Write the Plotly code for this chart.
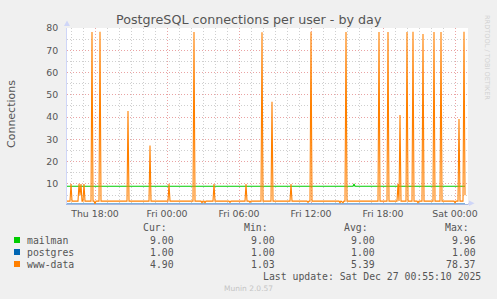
import plotly.graph_objects as go

# ---------------- data ----------------
title_text = "PostgreSQL connections per user - by day"
y_title = "Connections"

x_start = "2025-12-25 15:40"
x_end = "2025-12-27 01:05"
major_tick0 = "2025-12-25 18:00"

mailman_time = ["2025-12-25 15:40", "2025-12-26 15:30", "2025-12-26 15:35",
                "2025-12-26 15:40", "2025-12-27 00:50"]
mailman_val = [9.0, 9.0, 9.96, 9.0, 9.0]

postgres_time = ["2025-12-25 15:40", "2025-12-27 00:50"]
postgres_val = [1.0, 1.0]

www_time = [
    "2025-12-25 15:40", "2025-12-25 15:55", "2025-12-25 16:00", "2025-12-25 16:05",
    "2025-12-25 16:35", "2025-12-25 16:40", "2025-12-25 16:45", "2025-12-25 16:50",
    "2025-12-25 16:55", "2025-12-25 17:00", "2025-12-25 17:05", "2025-12-25 17:10",
    "2025-12-25 17:40", "2025-12-25 17:45", "2025-12-25 17:50", "2025-12-25 17:55",
    "2025-12-25 18:00", "2025-12-25 18:05", "2025-12-25 18:20", "2025-12-25 18:25",
    "2025-12-25 18:30", "2025-12-25 20:40", "2025-12-25 20:45", "2025-12-25 20:50",
    "2025-12-25 22:30", "2025-12-25 22:35", "2025-12-25 22:40",
    "2025-12-26 00:05", "2025-12-26 00:10", "2025-12-26 00:15",
    "2025-12-26 02:10", "2025-12-26 02:15", "2025-12-26 02:20",
    "2025-12-26 02:50", "2025-12-26 02:55", "2025-12-26 03:00",
    "2025-12-26 03:05", "2025-12-26 03:10", "2025-12-26 03:15",
    "2025-12-26 03:50", "2025-12-26 03:55", "2025-12-26 04:00",
    "2025-12-26 05:10", "2025-12-26 05:15", "2025-12-26 05:20",
    "2025-12-26 06:30", "2025-12-26 06:35", "2025-12-26 06:40",
    "2025-12-26 06:50", "2025-12-26 06:55", "2025-12-26 07:00",
    "2025-12-26 07:50", "2025-12-26 07:55", "2025-12-26 08:00",
    "2025-12-26 08:40", "2025-12-26 08:45", "2025-12-26 08:50",
    "2025-12-26 10:15", "2025-12-26 10:20", "2025-12-26 10:25",
    "2025-12-26 11:40", "2025-12-26 11:45", "2025-12-26 11:50",
    "2025-12-26 11:55", "2025-12-26 12:00", "2025-12-26 12:05",
    "2025-12-26 14:20", "2025-12-26 14:25", "2025-12-26 14:30",
    "2025-12-26 14:40", "2025-12-26 14:45", "2025-12-26 14:50",
    "2025-12-26 14:55", "2025-12-26 15:00",
    "2025-12-26 17:35", "2025-12-26 17:40", "2025-12-26 17:45",
    "2025-12-26 18:20", "2025-12-26 18:25", "2025-12-26 18:30",
    "2025-12-26 19:10", "2025-12-26 19:15", "2025-12-26 19:20",
    "2025-12-26 19:25", "2025-12-26 19:30",
    "2025-12-26 19:55", "2025-12-26 20:00", "2025-12-26 20:05",
    "2025-12-26 20:25", "2025-12-26 20:30", "2025-12-26 20:35",
    "2025-12-26 20:50", "2025-12-26 20:55", "2025-12-26 21:00",
    "2025-12-26 21:15", "2025-12-26 21:20", "2025-12-26 21:25",
    "2025-12-26 22:10", "2025-12-26 22:15", "2025-12-26 22:20",
    "2025-12-26 22:45", "2025-12-26 22:50", "2025-12-26 22:55",
    "2025-12-26 23:55", "2025-12-27 00:00", "2025-12-27 00:05",
    "2025-12-27 00:15", "2025-12-27 00:20", "2025-12-27 00:25",
    "2025-12-27 00:40", "2025-12-27 00:45", "2025-12-27 00:50",
]
www_val = [
    2.3, 2.3, 10.0, 2.3,
    2.3, 10.1, 4.8, 10.0,
    2.3, 2.3, 10.0, 2.3,
    2.3, 78.2, 2.3, 2.3,
    1.1, 2.3, 2.3, 78.3,
    2.3, 2.3, 42.7, 2.3,
    2.3, 27.3, 2.3,
    2.3, 10.1, 2.3,
    2.3, 78.2, 2.3,
    2.3, 1.6, 2.3,
    2.3, 1.6, 2.3,
    2.3, 10.0, 2.3,
    2.3, 1.7, 2.3,
    2.3, 10.0, 2.3,
    2.3, 1.7, 2.3,
    2.3, 78.1, 2.3,
    2.3, 46.9, 2.3,
    2.3, 10.0, 2.3,
    2.3, 1.7, 2.3,
    2.3, 78.3, 2.3,
    2.3, 1.6, 2.3,
    1.6, 2.3, 2.3,
    78.2, 2.3,
    2.3, 78.2, 2.3,
    2.3, 78.2, 2.3,
    2.3, 10.0, 2.3,
    40.9, 2.3,
    2.3, 78.2, 2.3,
    2.3, 78.3, 2.3,
    2.3, 1.6, 2.3,
    2.3, 77.3, 2.3,
    2.3, 78.2, 2.3,
    2.3, 78.2, 2.3,
    2.3, 1.6, 2.3,
    2.3, 39.1, 2.3,
    2.3, 78.37, 4.9,
]

series_names = ["mailman", "postgres", "www-data"]
series_colors = ["#00cc00", "#0066b3", "#ff8000"]
cur_vals = ["9.00", "1.00", "4.90"]
min_vals = ["9.00", "1.00", "1.03"]
avg_vals = ["9.00", "1.00", "5.39"]
max_vals = ["9.96", "1.00", "78.37"]
col_headers = ["Cur:", "Min:", "Avg:", "Max:"]
last_update = "Last update: Sat Dec 27 00:55:10 2025"
munin_ver = "Munin 2.0.57"
rrd_credit = "RRDTOOL / TOBI OETIKER"

# ---------------- layout helpers ----------------
W, H = 497, 299
L, R, T, B = 67, 29, 28, 95
PW = W - L - R
PH = H - T - B


def px(x):
    return (x - L) / PW


def py(y):
    return (H - B - y) / PH


FONT = "DejaVu Sans"
MONO = "DejaVu Sans Mono"
TXT = "#555555"
AXIS = "#cfd6f8"

fig = go.Figure()
series = [(mailman_time, mailman_val), (postgres_time, postgres_val), (www_time, www_val)]
for (t, v), name, col in zip(series, series_names, series_colors):
    fig.add_trace(go.Scatter(x=t, y=v, mode="lines", name=name,
                             line=dict(color=col, width=1.1),
                             hoverinfo="skip", showlegend=False))

ann = []
# title
ann.append(dict(text=title_text, x=px(248.5), y=py(19.5), xanchor="center", yanchor="middle",
                font=dict(family=FONT, size=12.7, color=TXT)))
# y title
ann.append(dict(text=y_title, x=px(11), y=py(114), xanchor="center", yanchor="middle",
                textangle=-90, font=dict(family=FONT, size=11, color=TXT)))
# rrdtool credit
ann.append(dict(text=rrd_credit, x=px(487), y=py(57), xanchor="center", yanchor="middle",
                textangle=90, font=dict(family=FONT, size=6.6, color="#d2d2d2")))

mfont = dict(family=MONO, size=9.8, color=TXT)
header_right = [168, 269, 369, 470]
value_right = [175, 276, 376, 477]
for h, xr in zip(col_headers, header_right):
    ann.append(dict(text=h, x=px(xr), y=py(228), xanchor="right", yanchor="middle", font=mfont))
row_y = [240, 252, 264]
shapes = []
for i, name in enumerate(series_names):
    yc = row_y[i]
    ann.append(dict(text=name, x=px(26), y=py(yc), xanchor="left", yanchor="middle", font=mfont))
    for vals, xr in zip([cur_vals, min_vals, avg_vals, max_vals], value_right):
        ann.append(dict(text=vals[i], x=px(xr), y=py(yc), xanchor="right", yanchor="middle", font=mfont))
    shapes.append(dict(type="rect", xref="paper", yref="paper",
                       x0=px(14), x1=px(20), y0=py(yc - 3), y1=py(yc + 3),
                       fillcolor=series_colors[i], line=dict(width=0)))
ann.append(dict(text=last_update, x=px(482), y=py(276), xanchor="right", yanchor="middle", font=mfont))
ann.append(dict(text=munin_ver, x=px(248), y=py(288), xanchor="center", yanchor="middle",
                font=dict(family=FONT, size=7.5, color="#c4c4c4")))
for a in ann:
    a.update(xref="paper", yref="paper", showarrow=False, borderpad=0)

# axis arrows
shapes.append(dict(type="path", xref="paper", yref="paper",
                   path=f"M {px(64)} {py(26)} L {px(70)} {py(26)} L {px(67)} {py(20.5)} Z",
                   fillcolor=AXIS, line=dict(width=0)))
shapes.append(dict(type="line", xref="paper", yref="paper",
                   x0=1, x1=px(470), y0=0, y1=0, line=dict(color="#a6b8e2", width=1)))
shapes.append(dict(type="path", xref="paper", yref="paper",
                   path=f"M {px(469)} {py(200.5)} L {px(469)} {py(206)} L {px(474.5)} {py(203.3)} Z",
                   fillcolor=AXIS, line=dict(width=0)))

MGRID = "#eaa3a3"
GRID = "#cfcfcf"
fig.update_layout(
    width=W, height=H,
    margin=dict(l=L, r=R, t=T, b=B),
    paper_bgcolor="#f0f0f0", plot_bgcolor="#ffffff",
    annotations=ann, shapes=shapes,
    font=dict(family=FONT, color=TXT),
    xaxis=dict(type="date", range=[x_start, x_end], tick0=major_tick0, dtick=6 * 3600000,
               tickformat="%a %H:%M", showgrid=True, gridcolor=MGRID, griddash="1px,2px",
               gridwidth=1, showline=True, linecolor="#a6b8e2", linewidth=1,
               ticks="", ticklabelstandoff=1, zeroline=False,
               tickfont=dict(family=FONT, size=9.4, color=TXT),
               minor=dict(dtick=3600000, tick0=major_tick0, showgrid=True, gridcolor=GRID,
                          griddash="1px,2px", gridwidth=1)),
    yaxis=dict(range=[1, 80], tick0=0, dtick=10, showgrid=True, gridcolor=MGRID,
               griddash="1px,2px", gridwidth=1, showline=True, linecolor=AXIS, linewidth=1,
               ticks="", ticklabelstandoff=6, zeroline=False,
               tickfont=dict(family=FONT, size=9.4, color=TXT),
               minor=dict(dtick=5, tick0=0, showgrid=True, gridcolor=GRID,
                          griddash="1px,2px", gridwidth=1)),
)

fig.write_html("out.html")
